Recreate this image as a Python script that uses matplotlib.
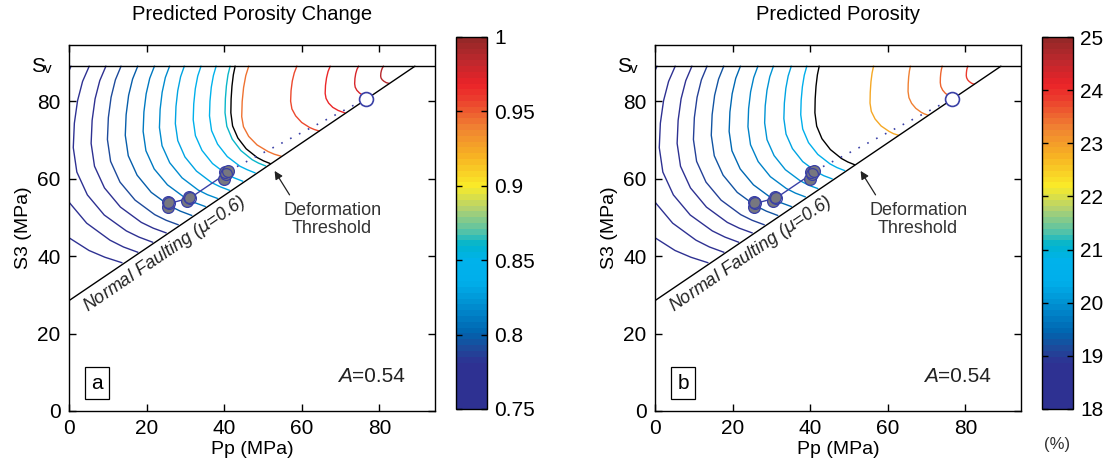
import numpy as np
import matplotlib.pyplot as plt
from matplotlib.colors import LinearSegmentedColormap, Normalize
from matplotlib.cm import ScalarMappable

plt.rcParams['font.family'] = ['Liberation Sans', 'DejaVu Sans']

# colour bar stops, bottom (0) to top (1)
cmap_pos = [0, 0.12, 0.16, 0.2, 0.28, 0.34, 0.4, 0.44, 0.48, 0.54, 0.6, 0.68, 0.76, 0.84, 0.88, 0.94, 1]
cmap_rgb = [(46, 49, 146), (46, 49, 146), (28, 75, 155), (0, 100, 175), (0, 145, 210), (0, 175, 235),
            (0, 178, 235), (0, 180, 205), (90, 195, 165), (180, 210, 110), (250, 235, 40), (247, 180, 35),
            (240, 130, 50), (235, 60, 45), (235, 35, 40), (190, 40, 45), (150, 40, 40)]

sv = 89.0
fault_pp = [0, 89.1]
fault_s3 = [28.5, 89.0]

# contours shared by both panels (low levels, left side)
common_x = [
    [-7.0, -9.07, -10.66, -11.66, -12.0, -10.85, -7.44, -1.99, 5.15, 9.25, 13.6],
    [0.5, -1.32, -2.72, -3.6, -3.9, -2.93, -0.06, 4.55, 10.57, 14.03, 17.7],
    [5.2, 3.5, 2.2, 1.38, 1.1, 2.02, 4.73, 9.08, 14.77, 18.03, 21.5],
    [9.5, 7.93, 6.72, 5.96, 5.7, 6.57, 9.14, 13.25, 18.63, 21.72, 25.0],
    [13.4, 11.95, 10.84, 10.14, 9.9, 10.72, 13.14, 17.02, 22.09, 25.01, 28.1],
    [17.7, 16.38, 15.36, 14.72, 14.5, 15.27, 17.54, 21.19, 25.96, 28.69, 31.6],
    [22.0, 20.8, 19.88, 19.3, 19.1, 19.82, 21.95, 25.36, 29.82, 32.38, 35.1],
]
common_y = [
    [89, 84.6, 78.85, 72.2, 65.0, 58.1, 51.7, 46.0, 41.45, 39.7, 38.3],
    [89, 84.9, 79.65, 73.5, 66.9, 60.2, 54.0, 48.5, 44.1, 42.35, 41.0],
    [89, 85.1, 80.1, 74.3, 68.0, 61.7, 55.8, 50.6, 46.5, 44.9, 43.6],
    [89, 85.3, 80.6, 75.05, 69.1, 63.2, 57.6, 52.65, 48.7, 47.2, 46.0],
    [89, 85.5, 81.0, 75.75, 70.1, 64.45, 59.1, 54.45, 50.7, 49.25, 48.1],
    [89, 85.7, 81.5, 76.5, 71.2, 65.9, 60.9, 56.45, 52.95, 51.6, 50.5],
    [89, 85.9, 81.9, 77.2, 72.2, 67.2, 62.5, 58.4, 55.1, 53.8, 52.8],
]

# panel a
left_levels = [0.75, 0.76, 0.77, 0.78, 0.79, 0.80, 0.81, 0.82, 0.83, 0.84, 0.85, 0.86,
               0.945, 0.955, 0.965, 0.975, 0.985]
left_x = common_x + [
    [25.9, 24.82, 24.0, 23.48, 23.3, 23.97, 25.95, 29.13, 33.28, 35.67, 38.2],
    [29.7, 28.75, 28.02, 27.56, 27.4, 28.03, 29.87, 32.83, 36.71, 38.94, 41.3],
    [34.0, 33.17, 32.54, 32.14, 32.0, 32.57, 34.26, 36.97, 40.51, 42.54, 44.7],
    [37.9, 37.2, 36.66, 36.32, 36.2, 36.73, 38.28, 40.77, 44.04, 45.91, 47.9],
    [41.5, 40.96, 40.55, 40.29, 40.2, 40.67, 42.05, 44.27, 47.17, 48.83, 50.6],
    [46.3, 45.55, 44.98, 44.62, 44.5, 44.95, 46.3, 48.45, 51.27, 52.88, 54.6],
    [58.7, 58.04, 57.53, 57.21, 57.1, 57.43, 58.4, 59.95, 61.99, 63.16, 64.4],
    [67.3, 66.76, 66.35, 66.09, 66.0, 66.23, 66.89, 67.96, 69.35, 70.15, 71.0],
    [74.6, 74.19, 73.87, 73.67, 73.6, 73.74, 74.17, 74.85, 75.74, 76.26, 76.8],
    [81.0, 80.71, 80.49, 80.35, 80.3, 80.39, 80.67, 81.12, 81.71, 82.04, 82.4],
]
left_y = common_y + [
    [89, 86.1, 82.3, 77.9, 73.2, 68.5, 64.1, 60.2, 57.05, 55.85, 54.9],
    [89, 86.3, 82.7, 78.6, 74.2, 69.8, 65.6, 61.95, 59.0, 57.9, 57.0],
    [89, 86.5, 83.2, 79.3, 75.2, 71.1, 67.3, 63.9, 61.2, 60.2, 59.35],
    [89, 86.6, 83.6, 80.0, 76.2, 72.4, 68.9, 65.7, 63.2, 62.3, 61.5],
    [89, 86.8, 83.9, 80.6, 77.0, 73.5, 70.2, 67.25, 64.9, 64.0, 63.3],
    [89, 86.6, 83.5, 79.9, 76.0, 73.4, 70.9, 68.7, 67.0, 66.3, 65.8],
    [89, 87.3, 85.2, 82.7, 80.0, 78.0, 76.2, 74.5, 73.2, 72.7, 72.3],
    [89, 87.7, 86.0, 84.1, 82.0, 80.7, 79.5, 78.4, 77.6, 77.3, 77.0],
    [89, 88.2, 87.1, 85.85, 84.5, 83.6, 82.8, 82.1, 81.5, 81.3, 81.1],
    [89, 88.5, 87.9, 87.25, 86.5, 86.0, 85.55, 85.15, 84.8, 84.7, 84.6],
]
left_thr_x = [42.8, 42.34, 41.99, 41.77, 41.7, 42.15, 43.5, 45.65, 48.47, 50.08, 51.8]
left_thr_y = [89, 86.8, 83.9, 80.6, 77.0, 73.6, 70.5, 67.7, 65.45, 64.6, 63.9]

# panel b
right_levels = [18.0, 18.25, 18.5, 18.75, 19.0, 19.25, 19.5, 19.75, 20.0, 20.25, 20.5,
                22.9, 23.3, 23.5, 23.8]
right_x = common_x + [
    [26.5, 25.44, 24.63, 24.12, 23.95, 24.61, 26.58, 29.72, 33.83, 36.19, 38.7],
    [30.5, 29.57, 28.85, 28.4, 28.25, 28.86, 30.68, 33.59, 37.4, 39.58, 41.9],
    [35.1, 34.31, 33.71, 33.33, 33.2, 33.76, 35.41, 38.05, 41.51, 43.49, 45.6],
    [39.1, 38.46, 37.97, 37.66, 37.55, 38.06, 39.55, 41.95, 45.09, 46.89, 48.8],
    [56.3, 55.93, 55.64, 55.46, 55.4, 55.73, 56.7, 58.25, 60.29, 61.46, 62.7],
    [65.8, 65.55, 65.36, 65.24, 65.2, 65.43, 66.11, 67.19, 68.62, 69.43, 70.3],
    [74.0, 73.79, 73.63, 73.53, 73.5, 73.65, 74.11, 74.83, 75.78, 76.32, 76.9],
    [80.6, 80.43, 80.31, 80.23, 80.2, 80.29, 80.56, 80.98, 81.54, 81.86, 82.2],
]
right_y = common_y + [
    [89, 86.1, 82.4, 78.05, 73.4, 68.75, 64.4, 60.5, 57.45, 56.25, 55.3],
    [89, 86.3, 82.8, 78.8, 74.4, 70.05, 65.95, 62.3, 59.45, 58.3, 57.45],
    [89, 86.5, 83.3, 79.5, 75.5, 71.5, 67.75, 64.4, 61.8, 60.75, 59.95],
    [89, 86.7, 83.7, 80.25, 76.5, 72.8, 69.3, 66.25, 63.8, 62.85, 62.1],
    [89, 87.25, 85.0, 82.3, 79.5, 77.35, 75.4, 73.6, 72.2, 71.6, 71.2],
    [89, 87.8, 86.25, 84.45, 82.5, 80.9, 79.45, 78.15, 77.1, 76.7, 76.4],
    [89, 88.2, 87.2, 86.05, 84.8, 83.8, 82.85, 82.0, 81.4, 81.1, 80.9],
    [89, 88.55, 88.0, 87.3, 86.6, 86.05, 85.5, 85.05, 84.65, 84.5, 84.4],
]
right_thr_x = [42.3, 41.84, 41.49, 41.27, 41.2, 41.66, 43.02, 45.19, 48.03, 49.67, 51.4]
right_thr_y = [89, 86.8, 83.9, 80.6, 77.0, 73.55, 70.3, 67.5, 65.2, 64.3, 63.6]

# measured data points
pts_fill_pp = [25.5, 25.5, 30.5, 31.0, 40.0, 40.3, 40.9]
pts_fill_s3 = [52.6, 53.9, 54.2, 55.3, 59.8, 61.6, 62.0]
pts_open_pp = [25.8, 31.2, 40.5]
pts_open_s3 = [53.6, 55.0, 61.3]
path_pp = [41.0, 76.5]
path_s3 = [61.9, 80.6]

panels = [
    dict(title='Predicted Porosity Change', lab='a', levels=left_levels, cx=left_x, cy=left_y,
         tx=left_thr_x, ty=left_thr_y, vmin=0.75, vmax=1.0,
         cticks=[0.75, 0.8, 0.85, 0.9, 0.95, 1.0], clabels=['0.75', '0.8', '0.85', '0.9', '0.95', '1'],
         left=69, cbleft=456),
    dict(title='Predicted Porosity', lab='b', levels=right_levels, cx=right_x, cy=right_y,
         tx=right_thr_x, ty=right_thr_y, vmin=18, vmax=25,
         cticks=list(range(18, 26)), clabels=[str(v) for v in range(18, 26)],
         left=655, cbleft=1042),
]

W, H = 1111, 475
fig = plt.figure(figsize=(W / 100, H / 100), dpi=100)
cmap = LinearSegmentedColormap.from_list('pc', [(p, tuple(c / 255 for c in rgb)) for p, rgb in zip(cmap_pos, cmap_rgb)], N=64)

blue = '#3a40a6'
for p in panels:
    ax = fig.add_axes([p['left'] / W, (H - 411) / H, 366 / W, 366 / H])
    norm = Normalize(p['vmin'], p['vmax'])

    for lev, xs, ys in zip(p['levels'], p['cx'], p['cy']):
        ax.plot(xs, ys, color=cmap(norm(lev)), lw=1.0)
    ax.plot(p['tx'], p['ty'], color='k', lw=1.0)

    ax.axhline(sv, color='k', lw=1.0)
    ax.plot(fault_pp, fault_s3, color='k', lw=1.0)

    ax.plot(path_pp, path_s3, color=blue, lw=1.2, linestyle=(0, (1, 5)))
    ax.plot(pts_open_pp, pts_open_s3, color=blue, lw=1.0)
    ax.plot(pts_fill_pp, pts_fill_s3, 'o', ms=8.5, mfc='#77777f', mec=blue, mew=0.9)
    ax.plot(pts_open_pp, pts_open_s3, 'o', ms=8.5, mfc='none', mec=blue, mew=0.9)
    ax.plot(path_pp[-1], path_s3[-1], 'o', ms=10, mfc='white', mec=blue, mew=1.2)

    ax.set_xlim(0, 94.3)
    ax.set_ylim(0, 94.5)
    ax.set_xticks([0, 20, 40, 60, 80])
    ax.set_yticks([0, 20, 40, 60, 80])
    ax.tick_params(direction='in', length=5, width=1, labelsize=15, top=True, right=True, pad=6)
    for s in ax.spines.values():
        s.set_linewidth(1.0)
    ax.set_xlabel('Pp (MPa)', fontsize=14, labelpad=2)
    ax.set_ylabel('S3 (MPa)', fontsize=14, labelpad=4)
    ax.set_title(p['title'], fontsize=14.5, pad=18)

    ax.text(-0.105, sv, 'S', transform=ax.get_yaxis_transform(), fontsize=15, va='center', ha='left')
    ax.text(-0.068, sv - 0.6, 'v', transform=ax.get_yaxis_transform(), fontsize=11, va='center', ha='left')

    ax.text(24.5, 40.5, r'Normal Faulting ($\mu$=0.6)', fontsize=13, style='italic', rotation=34.2,
            rotation_mode='anchor', ha='center', va='center', color='#222222')
    ax.text(67.8, 49.5, 'Deformation\nThreshold', fontsize=13, ha='center', va='center',
            color='#333333', linespacing=1.05)
    ax.annotate('', xy=(52.6, 62.6), xytext=(57.2, 55.2),
                arrowprops=dict(arrowstyle='-|>', color='#222222', lw=0.9, mutation_scale=12))
    ax.text(73, 9, '=0.54', fontsize=15, ha='left', va='center', color='#222222')
    ax.text(73, 9, 'A', fontsize=15, ha='right', va='center', style='italic', color='#222222')
    ax.text(7.2, 7.2, p['lab'], fontsize=15, ha='center', va='center',
            bbox=dict(boxstyle='square,pad=0.3', fc='white', ec='k', lw=0.9))

    cax = fig.add_axes([p['cbleft'] / W, (H - 409) / H, 31 / W, 372 / H])
    cb = fig.colorbar(ScalarMappable(norm=norm, cmap=cmap), cax=cax, ticks=p['cticks'])
    cb.ax.set_yticklabels(p['clabels'])
    cb.ax.tick_params(direction='in', length=4, width=1, labelsize=15, left=True, right=True, pad=5)
    cb.outline.set_linewidth(1.0)

fig.text(1057 / W, (H - 444) / H, '(%)', fontsize=12, ha='center', va='center', color='#333333')

fig.savefig('out.png', dpi=100)
